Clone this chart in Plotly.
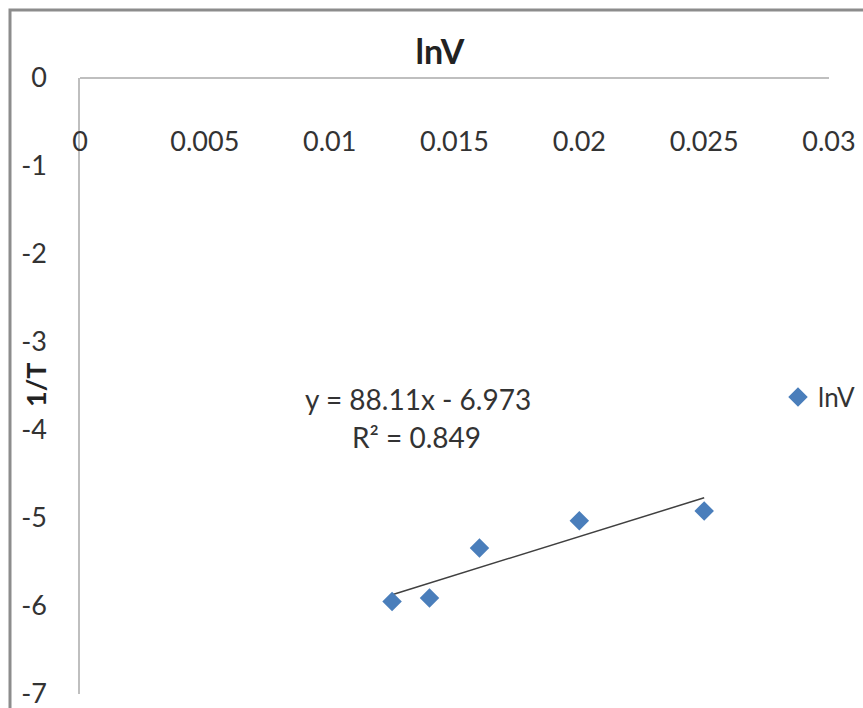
import numpy as np
import plotly.graph_objects as go

# data
x_vals = [0.0125, 0.014, 0.016, 0.02, 0.025]
y_vals = [-5.95, -5.91, -5.34, -5.03, -4.92]
series_name = "lnV"
chart_title = "lnV"
y_title = "1/T"
x_ticks = [0, 0.005, 0.01, 0.015, 0.02, 0.025, 0.03]
x_tick_text = ["0", "0.005", "0.01", "0.015", "0.02", "0.025", "0.03"]
y_ticks = [0, -1, -2, -3, -4, -5, -6, -7]
y_tick_text = ["0", "-1", "-2", "-3", "-4", "-5", "-6", "-7"]

slope_txt, int_txt, r2_txt = 88.11, 6.973, 0.849
tx = [min(x_vals), max(x_vals)]
ty = [slope_txt * v - int_txt for v in tx]

FONT = "Lato, Calibri, sans-serif"
W, H = 863, 708
L, R, T, B = 80, 34, 78, 14
pw, ph = W - L - R, H - T - B

def px_x(p):
    return (p - L) / pw

def px_y(p):
    return (H - B - p) / ph

fig = go.Figure()
fig.add_trace(go.Scatter(x=tx, y=ty, mode="lines", line=dict(color="#404040", width=1.5),
                         showlegend=False, hoverinfo="skip", cliponaxis=False))
fig.add_trace(go.Scatter(x=x_vals, y=y_vals, mode="markers", name=series_name,
                         marker=dict(symbol="diamond", size=15, color="#4A7EBB")))

fig.update_layout(
    width=W, height=H,
    margin=dict(l=L, r=R, t=T, b=B, autoexpand=False),
    paper_bgcolor="white", plot_bgcolor="white",
    font=dict(family=FONT, size=27, color="#333333"),
    title=dict(text="<b>" + chart_title + "</b>", x=440 / W, xanchor="center",
               y=1 - 52 / H, yanchor="middle", font=dict(size=34, color="#222222")),
    xaxis=dict(range=[0, 0.03], tickvals=x_ticks, ticktext=x_tick_text, showgrid=False,
               zeroline=False, showline=True, linecolor="#bfbfbf", linewidth=1.5,
               ticks="", anchor="free", position=1, side="bottom", ticklabelstandoff=40,
               automargin=False, ticklabeloverflow="allow"),
    yaxis=dict(range=[-7, 0], tickvals=y_ticks, ticktext=y_tick_text, showgrid=False,
               zeroline=False, showline=True, linecolor="#bfbfbf", linewidth=1.5,
               ticks="", ticklabelstandoff=26, automargin=False, ticklabeloverflow="allow"),
    legend=dict(x=px_x(778), y=px_y(397), xanchor="left", yanchor="middle",
                bgcolor="rgba(0,0,0,0)", font=dict(size=26, color="#333333")),
    showlegend=True,
)

fig.add_annotation(xref="paper", yref="paper", x=px_x(35), y=px_y(385),
                   text="<b>" + y_title + "</b>", showarrow=False, textangle=-90,
                   font=dict(size=27, color="#222222"), xanchor="center", yanchor="middle")
fig.add_annotation(xref="paper", yref="paper", x=px_x(418), y=px_y(399),
                   text=f"y = {slope_txt}x - {int_txt}", showarrow=False,
                   font=dict(size=28, color="#333333"), xanchor="center", yanchor="middle")
fig.add_annotation(xref="paper", yref="paper", x=px_x(416), y=px_y(437),
                   text=f"R² = {r2_txt}", showarrow=False,
                   font=dict(size=28, color="#333333"), xanchor="center", yanchor="middle")

fig.add_shape(type="rect", xref="paper", yref="paper",
              x0=px_x(10), x1=px_x(W + 20),
              y0=px_y(H + 20), y1=px_y(10),
              line=dict(color="#8c8c8c", width=3), layer="below")

fig.write_html("out.html", config={"displayModeBar": False},
               post_script="document.body.style.margin='0';document.body.style.overflow='hidden';")
